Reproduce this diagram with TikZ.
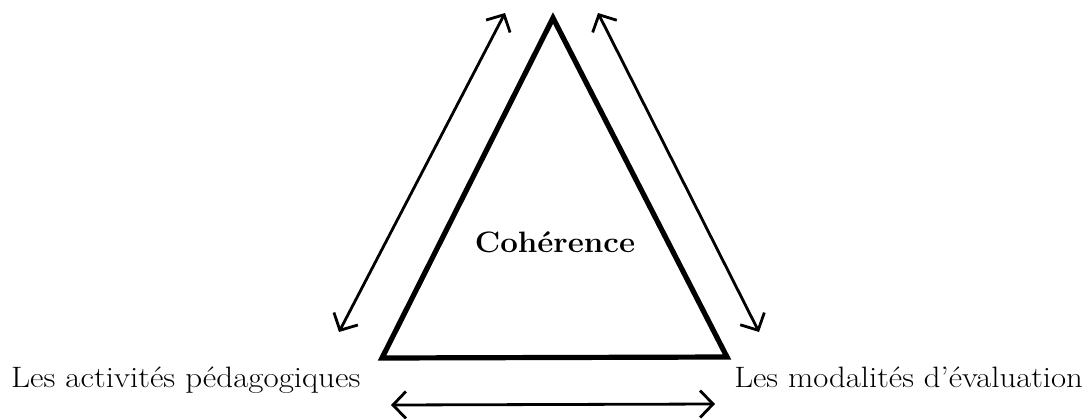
\documentclass[tikz,border=0pt]{standalone}
\usetikzlibrary{arrows.meta}
\begin{document}
\begin{tikzpicture}[x=1pt,y=-1pt,
  tri/.style={line width=5.2pt, line join=miter, line cap=butt},
  dblarrow/.style={line width=2.8pt, {Straight Barb[length=13pt,width=27pt]}-{Straight Barb[length=13pt,width=27pt]}},
  lbl/.style={inner sep=0pt, font=\fontsize{29.5}{34}\selectfont},
  ctr/.style={inner sep=0pt, font=\fontsize{29.5}{34}\selectfont\bfseries}]
\useasboundingbox (0,0) rectangle (1091,418);
% triangle corners
\coordinate (A) at (553,18);
\coordinate (B) at (382,358);
\coordinate (C) at (727,357);
\draw[tri] (A) -- (C) -- (B) -- cycle;
% arrow ends
\coordinate (l1) at (505,13);
\coordinate (l2) at (339,332);
\coordinate (r1) at (598,13);
\coordinate (r2) at (759,332);
\coordinate (b1) at (391,405);
\coordinate (b2) at (715,404);
\draw[dblarrow] (l2) -- (l1);
\draw[dblarrow] (r1) -- (r2);
\draw[dblarrow] (b1) -- (b2);
% labels
\node[lbl, anchor=base west] (left) at (11,387) {\scalebox{1.12}[1]{Les activités pédagogiques}};
\node[lbl, anchor=base east] (right) at (1083,387) {\scalebox{1.11}[1]{Les modalités d’évaluation}};
\node[ctr, anchor=base] (coh) at (555,252) {\scalebox{1.06}[1]{Cohérence}};
\end{tikzpicture}
\end{document}
